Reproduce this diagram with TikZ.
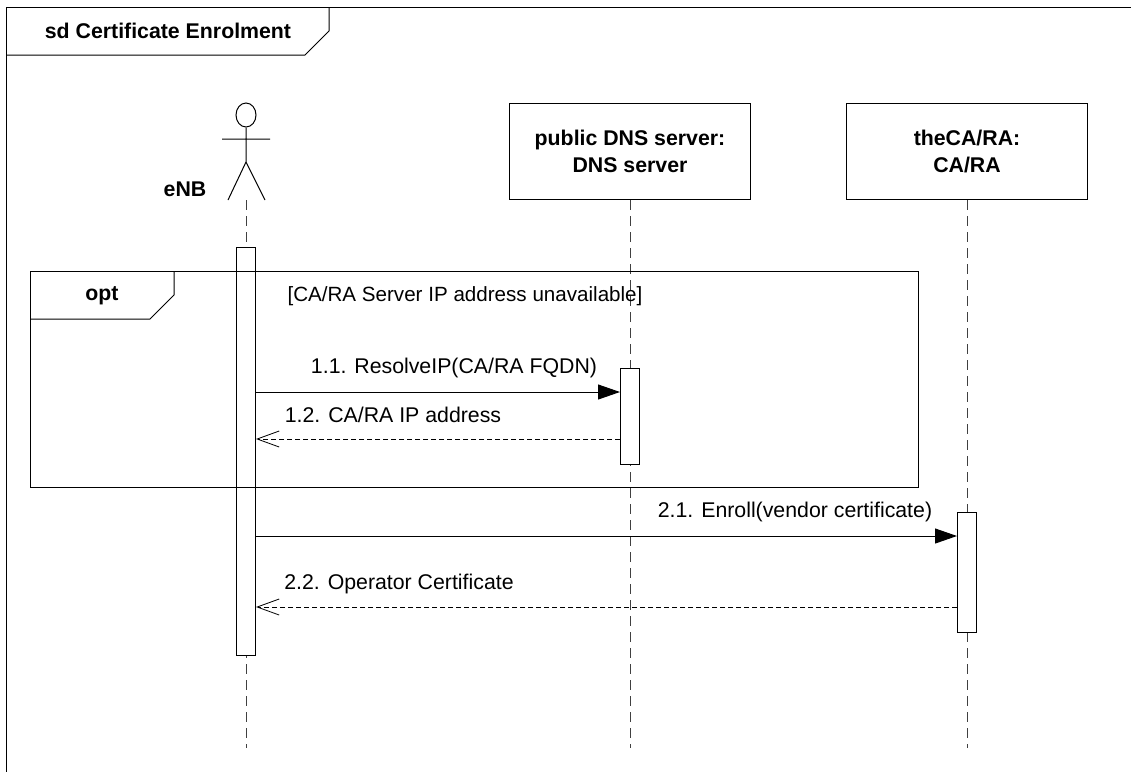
\documentclass[tikz,border=0pt]{standalone}
\usepackage{fontspec}
\setmainfont{Liberation Sans}
\usetikzlibrary{arrows.meta,positioning,shapes.geometric}

\begin{document}
\begin{tikzpicture}
[x=1pt,y=-1pt,line width=1pt,
title/.style={font=\fontsize{21.3}{27}\selectfont\bfseries,align=center,inner sep=0pt},
msgtext/.style={font=\fontsize{21.3}{24}\selectfont,inner sep=0pt},
objbox/.style={draw,fill=white,minimum width=241pt,minimum height=96pt,inner sep=0pt,title},
activation/.style={draw,fill=white,minimum width=19pt,inner sep=0pt},
lifeline/.style={draw=black!75,dash pattern=on 10pt off 6pt},
synccall/.style={-{Triangle[length=22pt,width=15pt]}},
replycall/.style={dash pattern=on 5pt off 3pt,-{Straight Barb[length=22pt,width=16pt,line width=0.8pt]}},]
\useasboundingbox (0,0) rectangle (1131,772);

%Outer frame
\draw (1131,7) -- (6,7) -- (6,772);
\draw (6,55) -- (305,55) -- (329,31) -- (329,7);
\node (frametitle) at (168,31)[title] {sd Certificate Enrolment};

%Actor
\node (head) at (246,115)[draw,ellipse,minimum width=20pt,minimum height=24pt,inner sep=0pt] {};
\coordinate (hip) at (246,162);
\coordinate (armL) at (222,139);
\coordinate (armR) at (270,139);
\coordinate (legL) at (228,200);
\coordinate (legR) at (265,200);
\draw (head) -- (hip) (armL) -- (armR) (legL) -- (hip) -- (legR);
\node (enb) at (185,189)[title] {eNB};

%Objects
\node (dns) at (630,151.5)[objbox] {public DNS server:\\DNS server};
\node (ca) at (967,151.5)[objbox] {theCA/RA:\\CA/RA};

%Lifelines
\coordinate (enbtop) at (246,200);
\coordinate (enbend) at (246,748);
\coordinate (dnsend) at (630,748);
\coordinate (caend) at (967,748);
\draw[lifeline] (enbtop) -- (enbend);
\draw[lifeline] (dns.south) -- (dnsend);
\draw[lifeline] (ca.south) -- (caend);

%Activations
\node (actenb) at (246,451)[activation,minimum height=408pt] {};
\node (actdns) at (630,416)[activation,minimum height=96pt] {};
\node (actca) at (967,572)[activation,minimum height=120pt] {};

%Opt fragment
\draw (30,271) rectangle (918,487);
\draw (30,319) -- (150,319) -- (174,295) -- (174,271);
\node (opt) at (102,296)[title] {opt};
\node (guard) at (465,296)[msgtext,font=\fontsize{20.6}{24}\selectfont] {[CA/RA Server IP address unavailable]};

%Messages
\draw[synccall] (actenb.east |- 0,392) -- (actdns.west |- 0,392);
\draw[replycall] (actdns.west |- 0,439) -- (actenb.east |- 0,439);
\draw[synccall] (actenb.east |- 0,536) -- (actca.west |- 0,536);
\draw[replycall] (actca.west |- 0,607) -- (actenb.east |- 0,607);
\node (m11) at (454,368)[msgtext] {1.1. ResolveIP(CA/RA FQDN)};
\node (m12) at (393,415)[msgtext] {1.2. CA/RA IP address};
\node (m21) at (795,512)[msgtext] {2.1. Enroll(vendor certificate)};
\node (m22) at (399,584)[msgtext] {2.2. Operator Certificate};
\end{tikzpicture}
\end{document}
